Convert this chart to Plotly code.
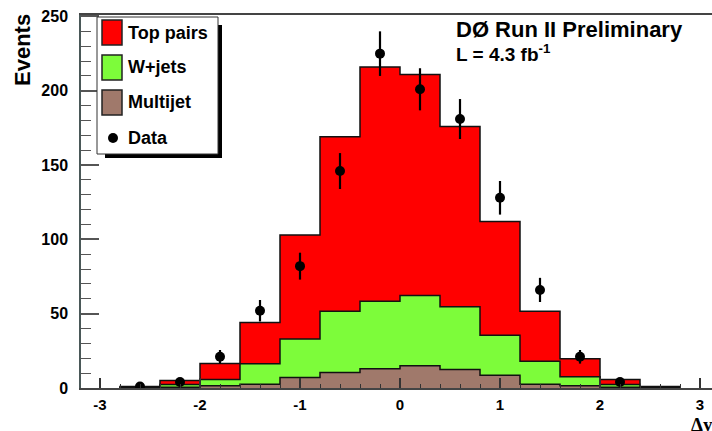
import plotly.graph_objects as go
import numpy as np

# ---------------- data ----------------
bin_edges = [-2.8, -2.4, -2.0, -1.6, -1.2, -0.8, -0.4, 0.0, 0.4, 0.8, 1.2, 1.6, 2.0, 2.4, 2.8]
top_pairs = [0.5, 2.7, 10.8, 27.7, 70.0, 117.3, 157.6, 148.8, 121.4, 76.5, 33.7, 12.1, 3.4, 0.7]
wjets     = [0.5, 1.8, 4.2, 13.8, 26.0, 41.2, 45.4, 47.2, 42.1, 27.0, 15.5, 6.0, 1.8, 0.3]
multijet  = [0.0, 0.5, 1.5, 2.5, 7.0, 10.5, 13.0, 15.0, 12.5, 8.5, 2.5, 1.5, 0.5, 0.0]
data_x = [-2.6, -2.2, -1.8, -1.4, -1.0, -0.6, -0.2, 0.2, 0.6, 1.0, 1.4, 1.8, 2.2]
data_y = [1, 4, 21, 52, 82, 146, 225, 201, 181, 128, 66, 21, 4]
x_ticks = [-3, -2, -1, 0, 1, 2, 3]
y_ticks = [0, 50, 100, 150, 200, 250]
legend_labels = ["Top pairs", "W+jets", "Multijet", "Data"]

# ---------------- style ----------------
W, H = 712, 431
ML, MR, MT, MB = 81, 0, 15, 43
RED, GREEN, BROWN = "#ff0000", "#7dfc3a", "#a0796b"
FONT = "Liberation Sans"

def px2x(px):
    return (px - ML) / (W - ML - MR)

def py2y(py):
    return (H - MB - py) / (H - MT - MB)

def step(vals):
    x = [bin_edges[0]] + list(bin_edges)
    y = [0] + list(vals) + [0]
    return x, y

mj = np.array(multijet)
wj = mj + np.array(wjets)
tot = wj + np.array(top_pairs)

fig = go.Figure()
for vals, col in [(tot, RED), (wj, GREEN), (mj, BROWN)]:
    sx, sy = step(vals)
    fig.add_trace(go.Scatter(x=sx, y=sy, mode="lines", line=dict(shape="hv", color="#111", width=1.5),
                             fill="tozeroy", fillcolor=col, showlegend=False, hoverinfo="skip"))

fig.add_trace(go.Scatter(x=data_x, y=data_y, mode="markers",
                         marker=dict(color="black", size=10),
                         error_y=dict(type="data", array=list(np.sqrt(data_y)), color="black",
                                      thickness=2.2, width=0),
                         showlegend=False))

shapes = []
annotations = []
# legend box with shadow
shapes.append(dict(type="rect", xref="paper", yref="paper", x0=px2x(218), x1=px2x(222),
                   y0=py2y(158), y1=py2y(25), fillcolor="black", line=dict(width=0)))
shapes.append(dict(type="rect", xref="paper", yref="paper", x0=px2x(105), x1=px2x(222),
                   y0=py2y(158), y1=py2y(154), fillcolor="black", line=dict(width=0)))
shapes.append(dict(type="rect", xref="paper", yref="paper", x0=px2x(97), x1=px2x(218),
                   y0=py2y(154), y1=py2y(17), fillcolor="white", line=dict(color="#333", width=1)))
box_tops = [20, 55, 90]
for top, col in zip(box_tops, [RED, GREEN, BROWN]):
    shapes.append(dict(type="rect", xref="paper", yref="paper", x0=px2x(102), x1=px2x(122),
                       y0=py2y(top + 25), y1=py2y(top), fillcolor=col, line=dict(color="#222", width=1.5)))
shapes.append(dict(type="circle", xref="paper", yref="paper", x0=px2x(108), x1=px2x(118),
                   y0=py2y(143), y1=py2y(133), fillcolor="black", line=dict(color="black", width=0)))
for lab, cy in zip(legend_labels, [33, 67, 102, 138]):
    annotations.append(dict(text="<b>%s</b>" % lab, xref="paper", yref="paper", x=px2x(126), y=py2y(cy),
                            xanchor="left", yanchor="middle", showarrow=False,
                            font=dict(family=FONT, size=18, color="black")))

annotations.append(dict(text="<b>DØ Run II Preliminary</b>", xref="paper", yref="paper",
                        x=px2x(454), y=py2y(29), xanchor="left", yanchor="middle", showarrow=False,
                        font=dict(family=FONT, size=22, color="black")))
annotations.append(dict(text="<b>L = 4.3 fb<sup>-1</sup></b>", xref="paper", yref="paper",
                        x=px2x(454), y=py2y(53), xanchor="left", yanchor="middle", showarrow=False,
                        font=dict(family=FONT, size=19, color="black")))
annotations.append(dict(text="<b>Events</b>", xref="paper", yref="paper", textangle=-90,
                        x=px2x(22), y=py2y(12), xanchor="center", yanchor="top", showarrow=False,
                        font=dict(family=FONT, size=22, color="black")))
annotations.append(dict(text="<b>Δy</b>", xref="paper", yref="paper",
                        x=px2x(689), y=py2y(424), xanchor="left", yanchor="middle", showarrow=False,
                        font=dict(family="Liberation Serif", size=19, color="black")))

fig.update_layout(
    width=W, height=H, margin=dict(l=ML, r=MR, t=MT, b=MB),
    paper_bgcolor="white", plot_bgcolor="white",
    shapes=shapes, annotations=annotations, showlegend=False,
    xaxis=dict(range=[-3.19, 3.12], tickvals=x_ticks, ticktext=[str(v) for v in x_ticks],
               ticks="inside", ticklen=10, tickwidth=1.5, tickcolor="#333", layer="above traces",
               minor=dict(dtick=0.2, ticks="inside", ticklen=4, tickcolor="#333", tickwidth=1.2, showgrid=False),
               showgrid=False, zeroline=False, showline=True, linecolor="#444", linewidth=1.5, mirror=True,
               tickfont=dict(family=FONT, size=15, color="black", weight="bold"), ticklabelstandoff=2),
    yaxis=dict(range=[0, 251], tickvals=y_ticks, ticktext=[str(v) for v in y_ticks],
               ticks="inside", ticklen=18, tickwidth=1.5, tickcolor="#555", layer="above traces",
               minor=dict(dtick=10, ticks="inside", ticklen=10, tickcolor="#555", tickwidth=1.2, showgrid=False),
               showgrid=False, zeroline=False, showline=True, linecolor="#4a5858", linewidth=1.5,
               tickfont=dict(family=FONT, size=16, color="black", weight="bold"), ticklabelstandoff=8),
)

fig.write_html("out.html")
